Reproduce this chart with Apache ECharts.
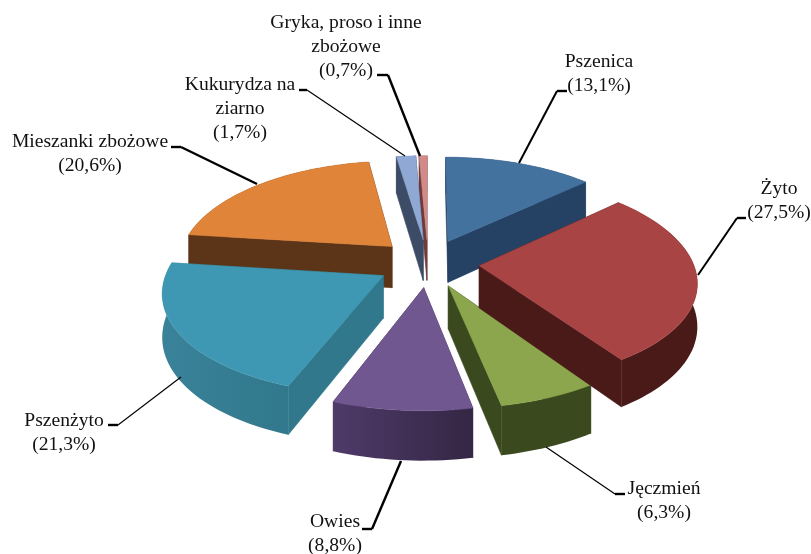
<!DOCTYPE html>
<html>
<head>
<meta charset="utf-8">
<style>html,body{margin:0;padding:0;background:#fff}#c{width:811px;height:554px}</style>
<script src="https://cdn.jsdelivr.net/npm/echarts@6/dist/echarts.min.js"></script>
</head>
<body>
<div id="c"></div>
<script>
// Data
const categories = ['Pszenica', 'Żyto', 'Jęczmień', 'Owies', 'Pszenżyto', 'Mieszanki zbożowe', 'Kukurydza na\nziarno', 'Gryka, proso i inne\nzbożowe'];
const shares = [13.1, 27.5, 6.3, 8.8, 21.3, 20.6, 1.7, 0.7];

// Styles
const topColors = ['#44729f', '#a84443', '#8ba64c', '#70578f', '#3e98b3', '#e0843a', '#8fa9d4', '#d28a88'];
const wallColors = ['#254265', '#4a1a19', '#3a4a1e', '#45325c', '#31788c', '#5c3417', '#3d4c66', '#6e3a3a'];
const rimFarColors = ['#254265', '#4a1a19', '#3a4a1e', '#342644', '#31788c', '#5c3417', '#3d4c66', '#6e3a3a'];
const rimNearColors = ['#254265', '#4a1a19', '#3a4a1e', '#4f3a69', '#3a8299', '#5c3417', '#3d4c66', '#6e3a3a'];
const paintRank = [2, 5, 4, 7, 6, 3, 1, 0];
const leaderWidths = [2, 2, 1.2, 2.4, 1.2, 2.4, 1.2, 2.4];

// Layout
const labelCentres = [[599, 74], [779, 201], [664, 501], [335, 534], [64, 433], [90, 154], [240, 109], [346, 47]];
const leaderPaths = [
  [[519, 163], [557, 91], [567, 91]],
  [[698, 275], [737, 218], [746, 218]],
  [[546, 447], [615, 494], [625, 494]],
  [[401, 461], [372, 529], [362, 529]],
  [[181, 377], [118, 425], [108, 425]],
  [[257, 184], [181, 147], [171, 147]],
  [[405, 156], [307, 90], [299, 90]],
  [[420, 156], [388, 75], [377, 75]]
];
const view = { cx: 428, cy: 263, rx: 214, ry: 100.3, perspX: 0.14, perspY: 0.128, explode: 0.24, depth: 42 };

function project(u, v, down) {
  const sx = 1 / (1 - view.perspX * v), sy = 1 / (1 - view.perspY * v);
  return [view.cx + view.rx * u * sx, view.cy + view.ry * v * sy + (down ? view.depth * sy : 0)];
}
const total = shares.reduce((a, b) => a + b, 0);

function renderSlice(params, api) {
  const i = api.value(0);
  const before = shares.slice(0, i).reduce((a, b) => a + b, 0);
  const a0 = before / total * 2 * Math.PI;
  const a1 = (before + api.value(1)) / total * 2 * Math.PI;
  const mid = (a0 + a1) / 2;
  const ox = Math.sin(mid) * view.explode, oy = -Math.cos(mid) * view.explode;
  const n = Math.max(2, Math.ceil((a1 - a0) / 0.03));
  const rim = [];
  for (let k = 0; k <= n; k++) {
    const a = a0 + (a1 - a0) * k / n;
    rim.push([ox + Math.sin(a), oy - Math.cos(a)]);
  }
  const ring = [[ox, oy]].concat(rim);
  const wall = wallColors[i];
  const z = paintRank[i] * 10;
  const face = (p, q) => ({
    type: 'polygon', z2: z,
    shape: { points: [project(p[0], p[1]), project(q[0], q[1]), project(q[0], q[1], true), project(p[0], p[1], true)] },
    style: { fill: wall, stroke: wall, lineWidth: 0.6 }
  });
  const children = [face(ring[0], rim[0]), face(ring[0], rim[n])];
  children.push({
    type: 'polygon', z2: z,
    shape: { points: rim.map(p => project(p[0], p[1])).concat(rim.slice().reverse().map(p => project(p[0], p[1], true))) },
    style: {
      fill: new echarts.graphic.LinearGradient(1, 0, 0, 0, [
        { offset: 0, color: rimFarColors[i] }, { offset: 1, color: rimNearColors[i] }
      ])
    }
  });
  children.push({
    type: 'polygon', z2: z + 1,
    shape: { points: ring.map(p => project(p[0], p[1])) },
    style: { fill: topColors[i], stroke: topColors[i], lineWidth: 0.5 }
  });
  const path = leaderPaths[i];
  children.push({
    type: 'polyline', z2: 200,
    shape: { points: path.slice(0, 2) },
    style: { fill: 'none', stroke: '#000', lineWidth: leaderWidths[i] }
  });
  children.push({
    type: 'polyline', z2: 200,
    shape: { points: path.slice(1) },
    style: { fill: 'none', stroke: '#000', lineWidth: 2.4 }
  });
  children.push({
    type: 'text', z2: 210,
    x: labelCentres[i][0], y: labelCentres[i][1],
    style: {
      text: categories[i] + '\n(' + String(api.value(1)).replace('.', ',') + '%)',
      font: '19.6px "Liberation Serif", serif',
      fill: '#111', align: 'center', verticalAlign: 'middle', lineHeight: 24
    }
  });
  return { type: 'group', children };
}

const chart = echarts.init(document.getElementById('c'), null, { renderer: 'canvas' });
chart.setOption({
  animation: false,
  backgroundColor: '#fff',
  series: [{
    type: 'custom',
    coordinateSystem: 'none',
    renderItem: renderSlice,
    data: shares.map((v, i) => [i, v])
  }]
});
</script>
</body>
</html>
